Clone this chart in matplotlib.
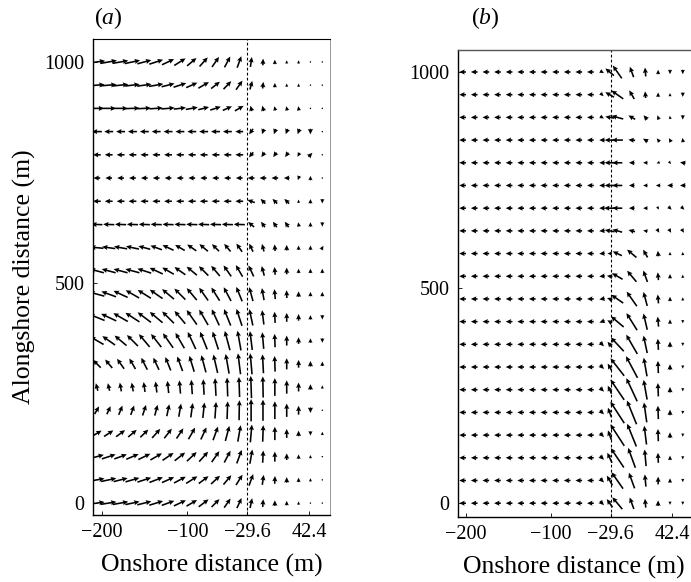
import numpy as np
import matplotlib
matplotlib.use('Agg')
import matplotlib.pyplot as plt

plt.rcParams['font.family'] = ['Liberation Serif', 'DejaVu Serif']
plt.rcParams['mathtext.fontset'] = 'custom'
plt.rcParams['mathtext.rm'] = 'Liberation Serif'
plt.rcParams['mathtext.it'] = 'Liberation Serif:italic'

# ---------------- data ----------------
XA = np.linspace(-206, 58, 20)          # onshore grid, panel (a)
XB = list(np.linspace(-204, -40, 13)) + [-31, -22, -5, 11, 26, 40, 55]   # panel (b)
Y_ROWS = np.linspace(1000, 0, 20)        # alongshore grid
XTICKS = [-200, -100, -29.6, 42.4]
XTICKLABELS = ['\u2212200', '\u2212100', '\u221229.6', '42.4']
YTICKS = [0, 500, 1000]
SHORE_LINE = -29.6

# panel (a): direction (deg) and magnitude per row (top row = 1000 m)
ANG_A = [
    [8,10,10,12,15,18,25,32,40,48,55,62,70,82,88,90,90,90,90,90],
    [5,5,6,7,8,10,14,18,24,30,38,46,55,75,85,90,90,90,90,90],
    [0,0,0,2,3,4,5,7,10,14,18,24,30,105,105,105,105,100,90,90],
    [180,180,180,180,180,180,180,180,180,180,180,180,180,235,250,250,250,250,270,90],
    [180,180,180,180,180,180,180,180,180,180,180,180,180,230,235,235,235,240,45,90],
    [180,180,180,180,180,180,180,180,180,180,180,180,180,180,180,180,180,250,90,90],
    [180,180,180,180,180,180,180,180,180,180,180,180,180,160,135,135,135,90,90,270],
    [178,178,178,178,178,178,178,178,178,178,178,178,178,140,125,125,125,100,90,270],
    [175,172,170,168,165,160,155,150,145,140,135,130,125,115,105,95,90,90,90,60],
    [165,165,165,165,162,155,150,145,140,135,130,125,120,115,105,95,90,90,90,90],
    [165,160,155,150,148,145,140,135,130,125,122,118,112,105,100,95,92,90,90,90],
    [158,155,150,147,143,140,135,130,125,120,115,112,108,102,97,93,90,90,90,270],
    [150,145,140,135,130,128,125,120,115,112,108,105,100,97,95,92,90,90,90,270],
    [135,130,125,120,117,115,112,110,107,105,103,100,97,95,93,92,90,90,90,90],
    [105,103,100,100,98,97,96,95,94,93,93,92,92,92,91,90,90,90,90,90],
    [60,65,68,70,72,75,78,80,82,84,86,88,89,90,90,90,90,90,270,90],
    [30,33,36,40,44,48,52,56,60,65,70,75,80,85,88,90,90,90,270,90],
    [15,18,20,23,26,30,34,38,43,48,55,62,70,80,87,90,90,90,90,90],
    [10,12,14,16,18,21,24,28,32,37,43,50,58,70,82,88,90,90,90,90],
    [8,9,10,12,14,17,20,25,30,37,45,55,65,78,86,90,90,90,90,90],
]
MAG_A = [
    [15,15,14,14,13,13,12,12,11,11,11,11,11,9,6,4,3,3,0,0],
    [14,14,14,13,13,13,12,12,11,11,10,10,10,8,6,4,3,3,0,0],
    [13,13,13,13,12,12,12,11,11,10,10,9,9,5,5,4,4,4,0,0],
    [9,8,8,8,8,8,8,8,8,8,8,8,7,6,5,5,5,5,5,0],
    [7,7,7,7,7,7,7,7,7,7,7,7,7,6,5,5,5,4,5,0],
    [6,6,6,6,6,6,6,6,6,6,6,6,6,6,6,6,5,4,4,0],
    [7,7,7,7,7,7,7,7,7,7,7,7,7,7,6,6,6,3,4,4],
    [10,10,10,10,10,10,10,10,10,10,10,10,10,7,6,6,6,4,4,4],
    [12,12,12,12,11,11,11,10,10,10,9,9,9,8,7,6,5,4,4,4],
    [13,13,13,13,13,13,12,12,12,12,12,12,12,11,9,7,6,4,4,4],
    [14,14,14,14,14,14,14,14,14,14,14,14,14,13,11,9,7,5,4,4],
    [15,15,15,15,15,15,15,15,16,16,16,16,16,15,13,10,8,6,4,4],
    [14,14,14,14,15,15,16,16,17,17,17,18,18,17,15,12,9,6,4,4],
    [10,10,11,11,12,12,13,14,15,16,17,18,19,19,17,14,10,7,5,4],
    [7,7,8,8,9,10,11,12,13,14,16,17,18,20,19,16,12,8,5,3],
    [8,8,9,9,10,10,11,12,13,14,15,16,18,20,19,16,12,8,5,0],
    [10,10,10,10,10,11,11,11,12,12,13,14,15,16,15,12,8,5,4,3],
    [13,13,12,12,12,12,12,12,12,12,12,12,13,13,11,9,6,4,3,0],
    [14,14,13,13,13,13,12,12,12,11,11,11,11,11,9,7,5,4,3,0],
    [14,14,14,13,13,13,12,12,11,11,10,10,10,9,7,5,4,3,0,0],
]

# panel (b)
ANG_B = [
    [180]*12 + [330,140,125,110,95,90,270,270],
    [180]*12 + [315,150,145,120,95,90,90,270],
    [180]*12 + [330,170,165,150,130,110,100,270],
    [180]*12 + [180,180,180,175,150,130,120,100],
    [180]*12 + [180,180,180,180,180,200,315,170],
    [180]*12 + [180,180,180,180,180,180,180,180],
    [180]*12 + [180,180,180,180,180,300,315,315],
    [180]*12 + [185,170,165,165,170,300,300,300],
    [180]*12 + [185,180,155,140,120,95,90,90],
    [180]*12 + [185,170,150,130,110,95,90,90],
    [180]*12 + [190,160,145,125,105,95,90,90],
    [180]*12 + [200,150,140,122,103,95,90,270],
    [180]*12 + [315,130,133,120,102,93,90,270],
    [180]*12 + [315,120,128,118,100,92,90,270],
    [180]*12 + [315,115,124,115,100,92,90,270],
    [180]*12 + [315,110,123,112,98,92,90,270],
    [180]*12 + [315,110,123,112,97,92,90,270],
    [180]*12 + [315,115,124,110,95,92,90,270],
    [180]*12 + [315,120,125,110,95,90,90,270],
    [180]*12 + [315,125,130,110,95,90,270,270],
]
MAG_B = [
    [6]*12 + [4,10,14,10,8,4,4,4],
    [6]*12 + [4,9,13,9,6,4,3,4],
    [6]*12 + [4,8,11,7,5,4,3,4],
    [6]*12 + [5,9,10,6,5,4,4,4],
    [6]*12 + [5,9,9,5,4,3,3,5],
    [6]*12 + [5,9,9,5,4,4,5,5],
    [6]*12 + [5,10,9,5,4,3,4,4],
    [6]*12 + [5,9,9,6,4,4,4,4],
    [6]*12 + [5,4,9,11,8,5,3,3],
    [6]*12 + [5,5,11,13,11,7,4,3],
    [6]*12 + [5,5,13,16,13,8,4,3],
    [6]*12 + [5,5,15,18,15,9,4,3],
    [6]*12 + [5,6,17,20,16,10,5,3],
    [6]*12 + [5,7,20,22,17,11,5,3],
    [6]*12 + [5,8,22,23,18,12,5,3],
    [6]*12 + [5,9,23,23,18,12,5,3],
    [6]*12 + [5,9,23,22,17,11,5,3],
    [6]*12 + [5,10,21,19,15,9,4,3],
    [6]*12 + [5,10,18,15,11,7,4,3],
    [6]*12 + [5,9,14,11,8,5,3,3],
]

# ---------------- figure ----------------
W, H = 691, 582
fig = plt.figure(figsize=(W/100, H/100), dpi=100)

def rect(l, r, t, b):
    return [l/W, 1 - b/H, (r - l)/W, (b - t)/H]

axA = fig.add_axes(rect(93, 330, 39, 515))
axB = fig.add_axes(rect(458, 690, 50, 517))

def draw(ax, xs, ang, mag, xlim, ylim):
    X, Y = np.meshgrid(np.asarray(xs, float), Y_ROWS)
    A = np.radians(np.array(ang, float))
    M = np.array(mag, float)
    U = M * np.cos(A)
    V = M * np.sin(A)
    ax.quiver(X, Y, U, V, angles='uv', scale_units='dots', scale=0.9,
              units='dots', width=1.6, headwidth=3.2, headlength=3.4,
              headaxislength=3.0, pivot='middle', color='black', zorder=3)
    ax.axvline(SHORE_LINE, color='black', lw=0.8, ls=(0, (2.5, 2)), zorder=2)
    ax.set_xlim(*xlim)
    ax.set_ylim(*ylim)
    ax.set_xticks(XTICKS)
    ax.set_xticklabels(XTICKLABELS)
    ax.set_yticks(YTICKS)
    ax.tick_params(direction='in', length=3, width=0.6, labelsize=14.5, pad=6)
    ax.tick_params(axis='y', pad=6)
    ax.set_xlabel('Onshore distance (m)', fontsize=18.5, labelpad=8)

draw(axA, XA, ANG_A, MAG_A, (-210.5, 67), (-27, 1052))
draw(axB, XB, ANG_B, MAG_B, (-209.4, 63.5), (-32, 1051))

axA.set_ylabel('Alongshore distance (m)', fontsize=18.5, labelpad=6)

for s in ['left', 'bottom']:
    axA.spines[s].set_linewidth(1.0)
    axB.spines[s].set_linewidth(1.0)
axA.spines['top'].set_linewidth(0.8)
axA.spines['right'].set_linewidth(0.6)
axA.spines['right'].set_color('#888888')
axB.spines['top'].set_linewidth(1.0)
axB.spines['top'].set_color('#555555')
axB.spines['right'].set_visible(False)

fig.text(108/W, 1 - 18/H, '($a$)', fontsize=17, ha='center', va='center')
fig.text(485/W, 1 - 18/H, '($b$)', fontsize=17, ha='center', va='center')

fig.savefig('out.png', dpi=100)
